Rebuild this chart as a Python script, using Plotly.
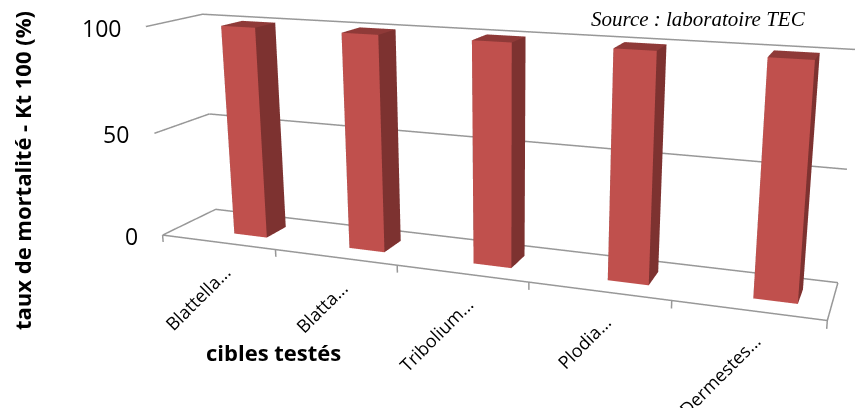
import math
import plotly.graph_objects as go

categories = ["Blattella...", "Blatta...", "Tribolium...", "Plodia...", "Dermestes..."]
values = [100, 100, 100, 100, 100]
yticks = [0, 50, 100]
source = "Source : laboratoire TEC"
xtitle = "cibles testés"
ytitle = "taux de mortalité - Kt 100 (%)"

# page placement of the scene, so that its fixed field of view matches the reference's lens
FIG_W, FIG_H, FIG_TOP = 1007, 984, -315
def px(x): return x / FIG_W
def py(y): return 1 - (y - FIG_TOP) / FIG_H

n = len(categories)
ZMIN, ZMAX = -4, 102
TICK = -3.5
BAR_START, BAR_W = 0.5, 0.29
BAR_Y0, BAR_Y1 = 0.31, 0.70
FRONT, TOP, SIDE = "#c0504d", "#8f3a38", "#7d3230"
GRID = "#989898"
LW = 3
asp_x, asp_y, asp_z = 2.4158, 0.3512, 0.7815
dz = (50 - (ZMIN + ZMAX) / 2) / 100 * asp_z

fig = go.Figure()
for t in yticks:
    fig.add_trace(go.Scatter3d(x=[0, 0, n], y=[0, 1, 1], z=[t, t, t], mode="lines",
                               line=dict(color=GRID, width=LW), hoverinfo="skip", showlegend=False))
fig.add_trace(go.Scatter3d(x=[0, n, n], y=[0, 0, 1], z=[0, 0, 0], mode="lines",
                           line=dict(color=GRID, width=LW), hoverinfo="skip", showlegend=False))
for i in range(n + 1):
    fig.add_trace(go.Scatter3d(x=[i, i], y=[0, 0], z=[0, TICK], mode="lines",
                               line=dict(color=GRID, width=LW), hoverinfo="skip", showlegend=False))

for i, v in enumerate(values):
    x0, x1 = i + BAR_START, i + BAR_START + BAR_W
    y0, y1 = BAR_Y0, BAR_Y1
    fig.add_trace(go.Mesh3d(
        x=[x0, x1, x1, x0, x0, x1, x1, x0],
        y=[y0, y0, y1, y1, y0, y0, y1, y1],
        z=[0, 0, 0, 0, v, v, v, v],
        i=[0, 0, 4, 4, 1, 1, 0, 0, 3, 3, 2, 2],
        j=[1, 2, 5, 6, 2, 6, 1, 5, 0, 4, 3, 7],
        k=[2, 3, 6, 7, 6, 5, 5, 4, 4, 7, 7, 6],
        facecolor=[FRONT] * 2 + [TOP] * 2 + [SIDE] * 2 + [FRONT] * 2 + [SIDE] * 2 + [SIDE] * 2,
        flatshading=True,
        lighting=dict(ambient=1, diffuse=0, specular=0, roughness=1, fresnel=0),
        showscale=False, hoverinfo="skip",
    ))

ax = dict(visible=False, showgrid=False, zeroline=False, showbackground=False, showspikes=False)
scene_notes = [
    dict(x=0, y=0, z=t, text=str(t), showarrow=False, xanchor="right", yanchor="middle",
         xshift=-23, yshift=-1, font=dict(size=23, family="Open Sans", color="black"))
    for t in yticks
]
for i, c in enumerate(categories):
    scene_notes.append(dict(x=i + 0.5, y=0, z=0, text=c, showarrow=False, textangle=-45,
                            xanchor="right", yanchor="top", xshift=20, yshift=-16,
                            font=dict(size=18, family="Open Sans", color="black")))

fig.update_layout(
    width=FIG_W, height=FIG_H, margin=dict(l=0, r=0, t=0, b=0), showlegend=False,
    paper_bgcolor="white",
    scene=dict(
        xaxis=dict(ax, range=[0, n]),
        yaxis=dict(ax, range=[0, 1]),
        zaxis=dict(ax, range=[ZMIN, ZMAX]),
        aspectmode="manual",
        aspectratio=dict(x=asp_x, y=asp_y, z=asp_z * (ZMAX - ZMIN) / 100),
        camera=dict(
            eye=dict(x=1.4534, y=-3.6960, z=0.9990 + dz),
            center=dict(x=0.1298, y=-0.1167, z=-0.0532 + dz),
            up=dict(x=-0.0877, y=0.2381, z=1),
        ),
        domain=dict(x=[0, 1], y=[0, 1]),
        annotations=scene_notes,
    ),
    annotations=[
        dict(text="<i>" + source + "</i>", x=px(698), y=py(19), xref="paper", yref="paper", showarrow=False,
             xanchor="center", yanchor="middle",
             font=dict(family="Liberation Serif", size=21, color="black")),
        dict(text="<b>" + xtitle + "</b>", x=px(273), y=py(352), xref="paper", yref="paper", showarrow=False,
             xanchor="center", yanchor="middle", font=dict(size=22, family="Open Sans", color="black")),
        dict(text="<b>" + ytitle + "</b>", x=px(22), y=py(171), xref="paper", yref="paper", showarrow=False,
             xanchor="center", yanchor="middle", textangle=-90,
             font=dict(size=22, family="Open Sans", color="black")),
    ],
)
post = ("var g=document.getElementById('{plot_id}');"
        "document.documentElement.style.overflow='hidden';document.body.style.overflow='hidden';"
        "g.style.position='fixed';g.style.left='0px';g.style.top='%dpx';" % FIG_TOP)
fig.write_html("out.html", post_script=post, config=dict(displayModeBar=False))
